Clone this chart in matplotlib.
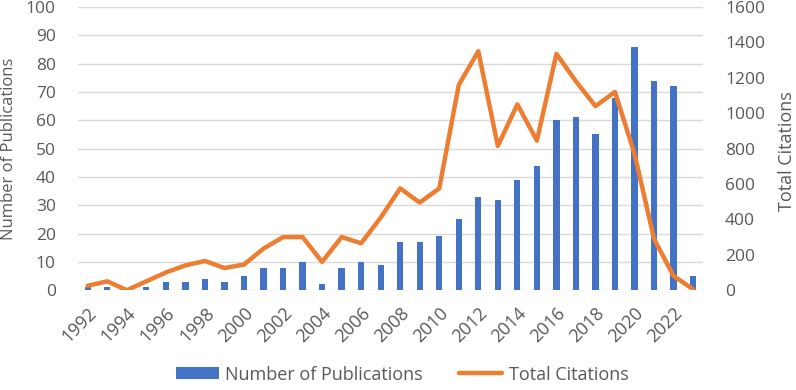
import numpy as np
import matplotlib.pyplot as plt

plt.rcParams['font.family'] = ['Open Sans', 'DejaVu Sans']

years = list(range(1992, 2024))
publications = [1, 1, 0, 1, 3, 3, 4, 3, 5, 8, 8, 10, 2, 8, 10, 9,
                17, 17, 19, 25, 33, 32, 39, 44, 60, 61, 55, 68, 86, 74, 72, 5]
citations = [25, 50, 0, 50, 100, 140, 165, 125, 145, 235, 300, 300, 160, 300, 265, 410,
             575, 495, 575, 1160, 1350, 815, 1050, 845, 1335, 1180, 1040, 1120, 770, 290, 80, 5]

blue = '#4472C4'
orange = '#ED7D31'
txt = '#595959'

fig = plt.figure(figsize=(7.96, 3.9), dpi=100)
ax = fig.add_axes([0.098, 0.256, 0.785, 0.726])
ax2 = ax.twinx()

x = np.arange(len(years))
ax.bar(x, publications, width=0.32, color=blue, label='Number of Publications', zorder=2)
ax2.plot(x, citations, color=orange, lw=3.2, solid_joinstyle='round', solid_capstyle='round',
         label='Total Citations', zorder=3)

ax.set_xlim(-0.5, len(years) - 0.5)
ax.set_ylim(0, 100)
ax2.set_ylim(0, 1600)
ax.set_yticks(range(0, 101, 10))
ax2.set_yticks(range(0, 1601, 200))
ax.grid(axis='y', color='#D9D9D9', lw=1, zorder=0)
ax.set_axisbelow(True)

ax.set_xticks(x[::2])
ax.set_xticklabels([str(y) for y in years[::2]], rotation=45, ha='right', rotation_mode='anchor')

for a in (ax, ax2):
    for s in a.spines.values():
        s.set_visible(False)
    a.tick_params(length=0, labelsize=12.5, colors=txt)
ax.tick_params(axis='y', pad=16)
ax2.tick_params(axis='y', pad=16)
ax.tick_params(axis='x', pad=10, labelsize=13)

ax.set_ylabel('Number of Publications', fontsize=12, color=txt)
ax2.set_ylabel('Total Citations', fontsize=13, color=txt)
ax.yaxis.set_label_coords(-0.097, 0.5)
ax2.yaxis.set_label_coords(1.12, 0.49)

h1, l1 = ax.get_legend_handles_labels()
h2, l2 = ax2.get_legend_handles_labels()
fig.legend(h1 + h2, l1 + l2, loc='lower center', bbox_to_anchor=(0.505, -0.025), ncol=2,
           frameon=False, fontsize=13, labelcolor=txt, handlelength=2.4, handleheight=0.6,
           handletextpad=0.35, columnspacing=2.0)

fig.savefig('out.png', dpi=100)
